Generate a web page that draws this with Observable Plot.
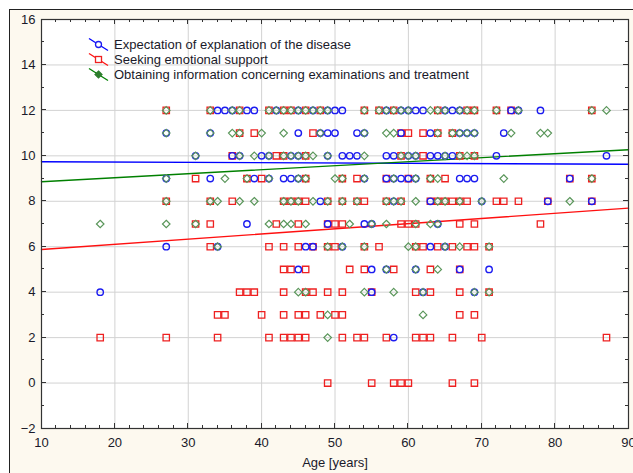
<!DOCTYPE html>
<html><head><meta charset="utf-8">
<script src="https://cdn.jsdelivr.net/npm/d3@7"></script>
<script src="https://cdn.jsdelivr.net/npm/@observablehq/plot@0.6"></script>
<style>body{margin:0;background:#fff;} svg{display:block;}</style>
</head><body><div id="chart"></div>
<script>
// Scores by age (age, list of scores observed at that age)
const expectationByAge = [[18,[4]],[27,[11,9,6]],[31,[10]],[33,[11,9]],[34,[12,6]],[35,[12]],[36,[12,10]],[37,[10]],[38,[12,7]],[39,[12,9]],[40,[10]],[41,[10,9]],[42,[12]],[43,[9]],[44,[10,9]],[45,[12,11,10,9,5]],[46,[6]],[47,[12,6]],[48,[11,8]],[49,[12,11,10,7]],[50,[12,11]],[51,[12,10,6]],[52,[10]],[53,[11,10]],[54,[11,9,7]],[55,[7,5,4]],[57,[12,10,9,5]],[58,[10,9,8,2]],[59,[12,11,9]],[60,[12,10,9]],[61,[12,10,9,5]],[62,[12,4]],[63,[11,10,8,6]],[64,[10,7]],[65,[12,10,6]],[66,[12,10]],[67,[12,11,9,5]],[68,[11,9]],[69,[11,9,4]],[70,[8]],[71,[5]],[72,[10]],[73,[11]],[74,[12]],[75,[12]],[78,[12]],[79,[8]],[82,[9]],[85,[8]],[87,[10]]];
const emotionalByAge = [[18,[2]],[27,[12,8,2]],[31,[9,7]],[33,[12,8,7,6]],[34,[3,2]],[35,[3]],[36,[10,8]],[37,[12,11,4]],[38,[9,4]],[39,[11,4]],[40,[9,3]],[41,[12,6,2]],[42,[10,7]],[43,[12,10,8,6,5,4,3,2]],[44,[12,8,5,2]],[45,[8,7,6,3,2]],[46,[12,10,9,8,5,4,3,2]],[47,[11,6,4]],[48,[12,3]],[49,[8,7,6,4,0]],[50,[7,6,3]],[51,[9,8,7,4,3,2]],[52,[5]],[53,[9,8,2]],[54,[12,8,6,5,2]],[55,[4,0]],[56,[12,6]],[57,[9,8,2]],[58,[12,5,0]],[59,[11,10,8,7,0]],[60,[11,9,7,0]],[61,[7,6,4,2]],[62,[11,10,6,2]],[63,[9,8,5,4,2]],[64,[12,11,8,6]],[65,[9,8]],[66,[11,8,6,2,0]],[67,[10,8,7,5,4,3]],[68,[12,8,6]],[69,[12,10,7,6,3,0]],[70,[2]],[71,[6,4]],[72,[12,8]],[73,[8]],[74,[12]],[75,[8]],[78,[7]],[79,[8]],[82,[9]],[85,[12,9,8]],[87,[2]]];
const informationByAge = [[18,[7]],[27,[12,11,9,8,7]],[31,[10,7]],[33,[12,11,8]],[34,[8,6]],[35,[9]],[36,[12,11]],[37,[12,11,10,8]],[38,[9]],[39,[10,8]],[40,[11]],[41,[12,10,9,7]],[42,[12]],[43,[12,11,10,8,7]],[44,[12,10,8,7]],[45,[12,10,9,8,4]],[46,[12,10,9,7,4]],[47,[12,10,8]],[48,[12,11]],[49,[12,10,8,6,3,2]],[50,[9]],[51,[9,8,6]],[52,[7]],[53,[8]],[54,[12,11,10,9,6,4]],[55,[7]],[56,[12]],[57,[12,11,8,7,5]],[58,[12,11,9,8,4]],[59,[12,10,8]],[60,[12,10,6]],[61,[10,9,8,7,6,5]],[62,[4,3]],[63,[12,9,7]],[64,[12,11,9,8,7,5]],[65,[12,10,8,6]],[66,[11]],[67,[12,11,10,8,6]],[68,[12,11,10]],[69,[12,11,10,4]],[70,[8]],[71,[6,4]],[72,[12]],[73,[9]],[74,[11]],[75,[12]],[78,[11]],[79,[11]],[82,[8]],[85,[12,9]],[87,[12]]];

// Fitted lines (ends at age 10 and 90)
const fitAge = [10, 90];
const fitExpectation = [9.74, 9.63];
const fitEmotional = [5.88, 7.70];
const fitInformation = [8.86, 10.27];

const legendLabels = ["Expectation of explanation of the disease", "Seeking emotional support", "Obtaining information concerning examinations and treatment"];
const xTicks = [10, 20, 30, 40, 50, 60, 70, 80, 90];
const yTicks = [-2, 0, 2, 4, 6, 8, 10, 12, 14, 16];
const xLabel = "Age [years]";

const flat = (rows) => rows.flatMap(([age, scores]) => scores.map(score => ({age, score})));
const fit = (vals) => fitAge.map((age, i) => ({age, score: vals[i]}));

const BLUE = "#1c1cf0", RED = "#ee2020", GREEN = "#5a965a";

const plot = Plot.plot({
  width: 633, height: 473,
  marginLeft: 41, marginRight: 5, marginTop: 19, marginBottom: 45,
  style: {background: "white", fontFamily: "'Liberation Sans', Arial, sans-serif", fontSize: "13px", color: "#1a1a2a"},
  x: {domain: [10, 90]},
  y: {domain: [-2, 16]},
  marks: [
    Plot.frame({fill: "white", stroke: null}),
    Plot.gridX(xTicks, {stroke: "#d2d2d2", strokeOpacity: 1}),
    Plot.gridY(yTicks, {stroke: "#d2d2d2", strokeOpacity: 1}),
    Plot.line(fit(fitExpectation), {x: "age", y: "score", stroke: "#0000ff", strokeWidth: 1.4}),
    Plot.line(fit(fitEmotional), {x: "age", y: "score", stroke: "#ff1010", strokeWidth: 1.4}),
    Plot.line(fit(fitInformation), {x: "age", y: "score", stroke: "#008000", strokeWidth: 1.4}),
    Plot.dot(flat(emotionalByAge), {x: "age", y: "score", symbol: "square", r: 3.6, stroke: RED, strokeWidth: 1.3}),
    Plot.dot(flat(expectationByAge), {x: "age", y: "score", symbol: "circle", r: 3.2, stroke: BLUE, strokeWidth: 1.4}),
    Plot.dot(flat(informationByAge), {x: "age", y: "score", symbol: "diamond2", r: 3.4, stroke: GREEN, strokeWidth: 1.2}),
    Plot.frame({stroke: "#333", strokeWidth: 1.2}),
    Plot.axisX(xTicks, {tickSize: 0, tickPadding: 9, label: null, fontSize: 13}),
    Plot.axisY(yTicks, {tickSize: 0, tickPadding: 6, label: null, fontSize: 13}),
    Plot.text([xLabel], {frameAnchor: "bottom", dy: 38, fontSize: 13, fill: "#1a1a2a"})
  ]
});

const svg = d3.select(plot);
const W = 633, H = 473;
svg.insert("rect", ":first-child")
  .attr("x", 9.5).attr("y", 9.5).attr("width", W + 20).attr("height", H + 20)
  .attr("fill", "#fdf9ef").attr("stroke", "#222").attr("stroke-width", 1);

// inward ticks on all four sides, positioned through the plot's scales
const sx = plot.scale("x"), sy = plot.scale("y");
const x0 = sx.apply(10), x1 = sx.apply(90), yb = sy.apply(-2), yt = sy.apply(16);
const tg = svg.append("g").attr("stroke", "#333").attr("stroke-width", 1).attr("shape-rendering", "crispEdges");
for (const v of d3.range(10, 90.01, 2)) {
  const px = sx.apply(v), L = v % 10 === 0 ? 5 : 3;
  tg.append("line").attr("x1", px).attr("x2", px).attr("y1", yb).attr("y2", yb - L);
  tg.append("line").attr("x1", px).attr("x2", px).attr("y1", yt).attr("y2", yt + L);
}
for (const v of d3.range(-2, 16.01, 1)) {
  const py = sy.apply(v), L = v % 2 === 0 ? 5 : 3;
  tg.append("line").attr("y1", py).attr("y2", py).attr("x1", x0).attr("x2", x0 + L);
  tg.append("line").attr("y1", py).attr("y2", py).attr("x1", x1).attr("x2", x1 - L);
}

// legend inside the plot, top-left
const colors = ["#0000ff", "#ff1010", "#008000"];
const markColors = [BLUE, RED, "#2e7d2e"];
const lg = svg.append("g").attr("text-anchor", "start");
legendLabels.forEach((label, i) => {
  const cy = 44.5 + i * 15;
  lg.append("line").attr("x1", 89).attr("y1", cy - 6).attr("x2", 108).attr("y2", cy + 6)
    .attr("stroke", colors[i]).attr("stroke-width", 1.3);
  if (i === 0) lg.append("circle").attr("cx", 98.5).attr("cy", cy).attr("r", 3).attr("fill", "white").attr("stroke", markColors[i]).attr("stroke-width", 1.3);
  if (i === 1) lg.append("rect").attr("x", 95.5).attr("y", cy - 3).attr("width", 6).attr("height", 6).attr("fill", "white").attr("stroke", markColors[i]).attr("stroke-width", 1.3);
  if (i === 2) lg.append("path").attr("d", `M98.5,${cy-3.5}L102,${cy}L98.5,${cy+3.5}L95,${cy}Z`).attr("fill", "#2e7d2e").attr("stroke", markColors[i]).attr("stroke-width", 1.2);
  lg.append("text").attr("x", 114).attr("y", cy + 4.7).attr("text-anchor", "start").text(label)
    .attr("font-family", "'Liberation Sans', Arial, sans-serif").attr("font-size", 13).attr("fill", "#1a1a2a");
});

document.getElementById("chart").appendChild(plot);
</script>
</body></html>
